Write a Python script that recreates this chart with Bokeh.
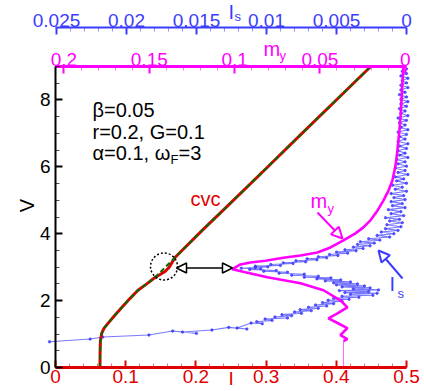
import math
from bokeh.plotting import figure
from bokeh.models import (Range1d, LinearAxis, SingleIntervalTicker,
                          CustomJSTickFormatter, Label, Arrow, NormalHead)
from bokeh.embed import file_html
from bokeh.resources import INLINE

# ---------------- data ----------------
cvc_I = [0.0634, 0.0635, 0.0640, 0.0658, 0.0690, 0.0748, 0.0840, 0.0947, 0.1060, 0.1175,
         0.1300, 0.1417, 0.1489, 0.1560, 0.1617, 0.1660, 0.1702, 0.2090, 0.2500, 0.3000,
         0.3500, 0.4000, 0.4490]
cvc_V = [0.00, 0.40, 0.80, 1.02, 1.17, 1.32, 1.55, 1.80, 2.06, 2.31,
         2.50, 2.69, 2.78, 2.87, 2.99, 3.14, 3.29, 4.10, 4.93, 5.95,
         6.98, 8.00, 9.00]
cvc2_I = [0.0634, 0.0635, 0.0640, 0.0658, 0.0690, 0.0748, 0.0840, 0.0947, 0.1060, 0.1175,
          0.1300, 0.1417, 0.1702, 0.2090, 0.2500, 0.3000, 0.3500, 0.4000, 0.4490]
cvc2_V = [0.00, 0.40, 0.80, 1.02, 1.17, 1.32, 1.55, 1.80, 2.06, 2.31,
          2.50, 2.69, 3.29, 4.10, 4.93, 5.95, 6.98, 8.00, 9.00]

my_tail = [0.0362, 0.0362]
my_tail_V = [0.00, 0.79]
my_vals = [0.0362, 0.0339, 0.0380, 0.0339, 0.0397, 0.0450, 0.0397, 0.0339, 0.0380, 0.0479,
           0.0614, 0.0808, 0.0937, 0.1013, 0.0966, 0.0907, 0.0819, 0.0714, 0.0614, 0.0515,
           0.0438, 0.0362, 0.0292, 0.0245, 0.0204, 0.0163, 0.0128, 0.0098, 0.0075, 0.0057,
           0.0046, 0.0034, 0.0028, 0.0022, 0.0016, 0.0011]
my_V = [0.79, 0.85, 0.97, 1.18, 1.33, 1.47, 1.62, 1.80, 2.01, 2.31,
        2.52, 2.70, 2.85, 2.94, 3.08, 3.14, 3.19, 3.28, 3.35, 3.44,
        3.59, 3.80, 4.01, 4.19, 4.40, 4.69, 4.99, 5.29, 5.59, 6.03,
        6.48, 7.08, 7.46, 7.97, 8.56, 8.98]

is_vals = [0.0255, 0.0226, 0.0217, 0.0184, 0.0167, 0.0150, 0.0160, 0.0139, 0.0127, 0.0114,
           0.0121, 0.0111, 0.0103, 0.0107, 0.0096, 0.0101, 0.0085, 0.0094, 0.0082, 0.0089,
           0.0075, 0.0080, 0.0068, 0.0076, 0.0063, 0.0070, 0.0057, 0.0065, 0.0052, 0.0060,
           0.0046, 0.0056, 0.0041, 0.0052, 0.0034, 0.0046, 0.0024, 0.0040, 0.0021, 0.0044,
           0.0027, 0.0048, 0.0020, 0.0038, 0.0026, 0.0046, 0.0030, 0.0050, 0.0035, 0.0052,
           0.0040, 0.0058, 0.0047, 0.0064, 0.0054, 0.0073, 0.0063, 0.0082, 0.0073, 0.0091,
           0.0085, 0.0102, 0.0093, 0.0112, 0.0104, 0.0118, 0.0108, 0.0099, 0.0108, 0.0090,
           0.0097, 0.0081, 0.0088, 0.0072, 0.0079, 0.0064, 0.0071, 0.0057, 0.0063, 0.0049,
           0.0055, 0.0042, 0.0050, 0.0036, 0.0044, 0.0031, 0.0038, 0.0026, 0.0035, 0.0023,
           0.0033, 0.0019, 0.0027, 0.0012, 0.0021, 0.0009, 0.0018, 0.0006, 0.0015, 0.0004,
           0.0014, 0.0003, 0.0012, 0.0005, 0.0015, 0.0002, 0.0011, 0.0004, 0.0013, 0.0001,
           0.0010, 0.0003, 0.0011, 0.0001, 0.0009, 0.0002, 0.0011, 0.0000, 0.0008, 0.0003,
           0.0010, 0.0000, 0.0007, 0.0002, 0.0008, -0.0001, 0.0006, 0.0001, 0.0008, 0.0000,
           0.0006, 0.0001, 0.0007, -0.0001, 0.0005, 0.0001, 0.0006, 0.0000, 0.0005, -0.0001,
           0.0006, 0.0001, 0.0005, 0.0000, 0.0006, -0.0001, 0.0004, 0.0001, 0.0005, 0.0000,
           0.0006, -0.0001, 0.0004, 0.0001, 0.0005, 0.0000, 0.0004, -0.0001, 0.0004, 0.0000,
           0.0005, 0.0001, 0.0004, -0.0001, 0.0004, 0.0000, 0.0003, -0.0001, 0.0004, 0.0000,
           0.0003, 0.0000, 0.0002]
is_V = [0.77, 0.85, 0.91, 0.97, 1.09, 1.02, 1.06, 1.12, 1.20, 1.15,
        1.18, 1.33, 1.31, 1.37, 1.41, 1.45, 1.48, 1.51, 1.55, 1.58,
        1.62, 1.66, 1.70, 1.73, 1.77, 1.80, 1.84, 1.87, 1.91, 1.94,
        1.98, 2.01, 2.04, 2.07, 2.10, 2.13, 2.16, 2.19, 2.22, 2.24,
        2.27, 2.30, 2.32, 2.35, 2.38, 2.41, 2.44, 2.47, 2.50, 2.53,
        2.56, 2.59, 2.62, 2.65, 2.68, 2.70, 2.73, 2.76, 2.79, 2.82,
        2.85, 2.88, 2.90, 2.93, 2.95, 2.97, 2.99, 3.01, 3.03, 3.05,
        3.08, 3.11, 3.13, 3.16, 3.19, 3.22, 3.25, 3.28, 3.31, 3.35,
        3.38, 3.42, 3.45, 3.49, 3.52, 3.56, 3.60, 3.64, 3.68, 3.72,
        3.76, 3.81, 3.85, 3.90, 3.95, 4.00, 4.05, 4.10, 4.15, 4.21,
        4.27, 4.33, 4.38, 4.43, 4.48, 4.54, 4.60, 4.66, 4.72, 4.78,
        4.84, 4.90, 4.96, 5.02, 5.08, 5.14, 5.20, 5.27, 5.33, 5.39,
        5.45, 5.51, 5.58, 5.64, 5.70, 5.77, 5.83, 5.89, 5.96, 6.02,
        6.09, 6.15, 6.22, 6.28, 6.35, 6.41, 6.48, 6.55, 6.62, 6.69,
        6.76, 6.83, 6.90, 6.97, 7.04, 7.11, 7.18, 7.25, 7.32, 7.39,
        7.46, 7.53, 7.60, 7.67, 7.74, 7.81, 7.88, 7.95, 8.02, 8.09,
        8.16, 8.23, 8.30, 8.37, 8.44, 8.51, 8.58, 8.65, 8.72, 8.79,
        8.86, 8.93, 9.00]

params = ["\u03b2=0.05", "r=0.2, G=0.1", "\u03b1=0.1, \u03c9"]

# axis extents (data units)
I_LIM = (0.0, 0.5)
V_LIM = (0.0, 9.0)
MY_LIM = (-0.0007, 0.2050)
IS_LIM = (0.0, 0.02507)

# ---------------- styling ----------------
RED = "#e00000"
MAG = "#ff00ff"
BLUE = "#3c3cff"
DATA_BLUE = "#3030ff"
GREEN = "#006e00"
FONT = "Liberation Sans"

# the frame fills the whole canvas; the axes are pinned inside it
p = figure(frame_width=424, frame_height=391,
           x_range=Range1d(-0.0783, 0.5256), y_range=Range1d(-0.7176, 10.974),
           output_backend="svg", toolbar_location=None,
           min_border_left=0, min_border_right=0, min_border_top=0, min_border_bottom=0)
p.outline_line_color = None
p.grid.visible = False
p.extra_x_ranges = {"my": Range1d(0.2372, -0.0113), "is": Range1d(0.0290, -0.001286)}

fmt = CustomJSTickFormatter(code="return String(parseFloat(tick.toFixed(4)));")


def style(ax, color, lw, interval, nminor, standoff, minor_alpha=0.55):
    ax.ticker = SingleIntervalTicker(interval=interval, num_minor_ticks=nminor)
    ax.formatter = fmt
    ax.axis_line_color = color
    ax.axis_line_width = lw
    ax.major_tick_line_color = color
    ax.major_tick_line_width = 2
    ax.major_tick_in = 7
    ax.major_tick_out = 0
    ax.minor_tick_line_color = color
    ax.minor_tick_line_alpha = minor_alpha
    ax.minor_tick_line_width = 1
    ax.minor_tick_in = 4
    ax.minor_tick_out = 0
    ax.major_label_text_color = color
    ax.major_label_text_font = FONT
    ax.major_label_text_font_size = "19px"
    ax.major_label_standoff = standoff


ax_b = p.xaxis[0]
style(ax_b, RED, 3, 0.1, 5, 2)
ax_b.fixed_location = V_LIM[0]
ax_b.bounds = I_LIM

ax_l = p.yaxis[0]
style(ax_l, "black", 2, 2, 4, 5, minor_alpha=0.7)
ax_l.fixed_location = I_LIM[0]
ax_l.bounds = V_LIM

ax_my = LinearAxis(x_range_name="my")
style(ax_my, MAG, 3, 0.05, 5, 1)
ax_my.fixed_location = V_LIM[1]
ax_my.bounds = MY_LIM
p.add_layout(ax_my, "above")

ax_is = LinearAxis(x_range_name="is")
style(ax_is, BLUE, 2, 0.005, 5, 1)
ax_is.fixed_location = 10.166
ax_is.bounds = IS_LIM
p.add_layout(ax_is, "above")

# ---------------- curves ----------------
p.line(is_vals, is_V, x_range_name="is", line_color=DATA_BLUE, line_width=1.1, line_alpha=0.65)
p.scatter(is_vals, is_V, x_range_name="is", size=2.4, marker="circle",
          fill_color=DATA_BLUE, line_color=DATA_BLUE, fill_alpha=0.7, line_alpha=0.7)

p.line(my_tail, my_tail_V, x_range_name="my", line_color=MAG, line_width=1, line_alpha=0.6)
p.line(my_vals, my_V, x_range_name="my", line_color=MAG, line_width=2.6)

p.line(cvc_I, cvc_V, line_color=RED, line_width=3)
p.line(cvc2_I, cvc2_V, line_color=GREEN, line_width=2, line_dash="5 3")

p.scatter([0.1546], [3.02], size=27, marker="circle", fill_alpha=0,
          line_color="black", line_width=1.5, line_dash="2 2")

# ---------------- arrows ----------------
p.add_layout(Arrow(x_start=0.1724, y_start=2.975, x_end=0.2521, y_end=2.975,
                   line_color="black", line_width=1.5,
                   start=NormalHead(size=10, fill_color="white", line_color="black", line_width=1.5),
                   end=NormalHead(size=10, fill_color="white", line_color="black", line_width=1.5)))
p.add_layout(Arrow(x_start=0.3732, y_start=4.635, x_end=0.4088, y_end=3.857,
                   line_color=MAG, line_width=2,
                   end=NormalHead(size=11, fill_color="white", line_color=MAG, line_width=2)))
p.add_layout(Arrow(x_start=0.4943, y_start=2.661, x_end=0.4601, y_end=3.498,
                   line_color=BLUE, line_width=2,
                   end=NormalHead(size=11, fill_color="white", line_color=BLUE, line_width=2)))


# ---------------- texts (anchored at their vertical middle) ----------------
def lab(x, y, text, color="black", size="20px", **kw):
    p.add_layout(Label(x=x, y=y, text=text, text_color=color, text_font=FONT,
                       text_font_size=size, text_align="left",
                       text_baseline="middle", **kw))


lab(0.0527, 7.712, params[0])
lab(0.0527, 7.054, params[1])
lab(0.0527, 6.426, params[2])
lab(0.1638, 6.205, "F", size="13px")
lab(0.1752, 6.426, "=3")

lab(0.1923, 5.051, "cvc", color=RED)

lab(0.3632, 4.991, "m", color=MAG)
lab(0.3875, 4.740, "y", color=MAG, size="13px")
lab(0.4758, 2.509, "I", color=BLUE)
lab(0.4872, 2.198, "s", color=BLUE, size="13px")

# axis titles
lab(0.2464, 10.642, "I", color=BLUE)
lab(0.2550, 10.481, "s", color=BLUE, size="13px")
lab(0.2963, 9.536, "m", color=MAG)
lab(0.3191, 9.344, "y", color=MAG, size="13px")
lab(0.2464, -0.341, "I", color=RED, size="19px")
p.add_layout(Label(x=-0.0412, y=4.844, text="V", text_color="black", text_font=FONT,
                   text_font_size="20px", text_align="center",
                   text_baseline="middle", angle=math.pi / 2))

open("out.html", "w").write(file_html(p, INLINE))
